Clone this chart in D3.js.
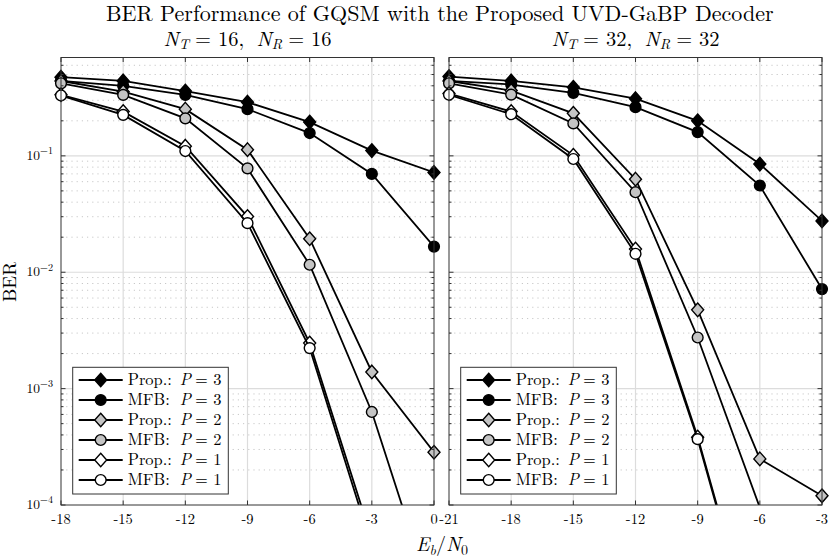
<!DOCTYPE html>
<html><head><meta charset="utf-8">
<script src="https://cdn.jsdelivr.net/npm/d3@7"></script>
<style>body{margin:0;background:#fff} svg{display:block}</style>
</head><body><svg id="c" width="830" height="558"></svg>
<script>
// ---------- data ----------
const xLeft = [-18,-15,-12,-9,-6,-3,0];
const xRight = [-21,-18,-15,-12,-9,-6,-3];
const xTicksLeft = [-18,-15,-12,-9,-6,-3,0];
const xTicksRight = [-21,-18,-15,-12,-9,-6,-3];
const yTicks = [1e-4,1e-3,1e-2,1e-1];
const yTickExp = ["\u22124","\u22123","\u22122","\u22121"];
const seriesNames = ["Prop.:","MFB:","Prop.:","MFB:","Prop.:","MFB:"];
const seriesP = [3,3,2,2,1,1];
const seriesMarker = ["diamond","circle","diamond","circle","diamond","circle"];
const seriesFill = ["#000000","#000000","#c4c4c4","#c4c4c4","#ffffff","#ffffff"];
// N_T = 16, N_R = 16
const L_prop3 = [0.474,0.44,0.36,0.289,0.195,0.111,0.072];
const L_mfb3  = [0.44,0.40,0.334,0.252,0.157,0.070,0.0166];
const L_prop2 = [0.44,0.356,0.252,0.113,0.0194,0.00139,0.000284];
const L_mfb2  = [0.42,0.334,0.21,0.078,0.0116,0.00063,0.000014];
const L_prop1 = [0.335,0.24,0.121,0.0301,0.00246,0.000051,null];
const L_mfb1  = [0.33,0.225,0.11,0.0264,0.00223,0.000044,null];
// N_T = 32, N_R = 32
const R_prop3 = [0.48,0.44,0.388,0.31,0.2,0.085,0.0276];
const R_mfb3  = [0.44,0.41,0.348,0.262,0.16,0.0556,0.00716];
const R_prop2 = [0.44,0.364,0.232,0.063,0.00475,0.000249,0.00012];
const R_mfb2  = [0.42,0.336,0.19,0.0487,0.00275,0.000095,null];
const R_prop1 = [0.343,0.24,0.101,0.0158,0.000383,0.0000049,null];
const R_mfb1  = [0.335,0.228,0.094,0.0144,0.000368,0.0000046,null];

const FONT = "'Latin Modern Roman', 'Liberation Serif', serif";
const svg = d3.select("#c").attr("font-family", FONT);
const top_ = 57.5, bottom_ = 505;
const yMin = 1e-4, yMax = 0.7;
const y = d3.scaleLog().domain([yMin, yMax]).range([bottom_, top_]);

function fit(t, w){
  const fs = parseFloat(t.attr("font-size"));
  const len = t.node().getComputedTextLength();
  if (len>0) t.attr("font-size", (fs*w/len).toFixed(2));
  return t;
}

const panels = [
  {x0:61, x1:434, xs:xLeft, ticks:xTicksLeft, dom:[-18,0], data:[L_prop3,L_mfb3,L_prop2,L_mfb2,L_prop1,L_mfb1], sub:"16", ylabels:true},
  {x0:449, x1:822, xs:xRight, ticks:xTicksRight, dom:[-21,-3], data:[R_prop3,R_mfb3,R_prop2,R_mfb2,R_prop1,R_mfb1], sub:"32", ylabels:false}
];

const gridCol = "#dcdcdc", axCol = "#333";
const minorVals = [];
for (let d=-4; d<0; d++) for (let k=2; k<=9; k++) { const v=k*Math.pow(10,d); if (v<yMax) minorVals.push(v); }

function marker(sel, type, fill, cx, cy){
  if (type==="diamond") {
    sel.append("path").attr("d", d3.line()([[0,-6.8],[6,0],[0,6.8],[-6,0]])+"Z")
      .attr("transform",`translate(${cx},${cy})`).attr("fill",fill).attr("stroke","#000").attr("stroke-width",1.4);
  } else {
    sel.append("circle").attr("cx",cx).attr("cy",cy).attr("r",5.4).attr("fill",fill).attr("stroke","#000").attr("stroke-width",1.4);
  }
}

// legend font size from a temporary measurement
const tmp = svg.append("text").attr("font-size",16).text("Prop.: P = 3");
fit(tmp, 93);
const legendFont = tmp.attr("font-size");
tmp.remove();

panels.forEach((p, pi) => {
  const x = d3.scaleLinear().domain(p.dom).range([p.x0, p.x1]);
  const g = svg.append("g");
  g.append("rect").attr("x",p.x0).attr("y",top_).attr("width",p.x1-p.x0).attr("height",bottom_-top_).attr("fill","#fff");
  g.selectAll(".mg").data(minorVals).enter().append("line")
    .attr("x1",p.x0).attr("x2",p.x1).attr("y1",d=>y(d)).attr("y2",d=>y(d))
    .attr("stroke","#c8c8c8").attr("stroke-width",1).attr("stroke-dasharray","1.2,4");
  g.selectAll(".Mg").data(yTicks.slice(1)).enter().append("line")
    .attr("x1",p.x0).attr("x2",p.x1).attr("y1",d=>y(d)).attr("y2",d=>y(d))
    .attr("stroke",gridCol).attr("stroke-width",1.2);
  g.selectAll(".xg").data(p.ticks.slice(1,-1)).enter().append("line")
    .attr("x1",d=>x(d)).attr("x2",d=>x(d)).attr("y1",top_).attr("y2",bottom_)
    .attr("stroke",gridCol).attr("stroke-width",1.2);

  const cid = "clip"+pi;
  svg.append("clipPath").attr("id",cid).append("rect").attr("x",p.x0).attr("y",top_).attr("width",p.x1-p.x0).attr("height",bottom_-top_);

  p.data.forEach((vals, si) => {
    const pts = vals.map((v,i)=>[p.xs[i], v]).filter(d=>d[1]!==null);
    const line = d3.line().x(d=>x(d[0])).y(d=>y(d[1]));
    g.append("path").attr("d", line(pts)).attr("fill","none").attr("stroke","#000")
      .attr("stroke-width",1.8).attr("clip-path",`url(#${cid})`);
    const mg = g.append("g");
    pts.filter(d=>d[1]>=yMin && d[1]<=yMax).forEach(d => marker(mg, seriesMarker[si], seriesFill[si], x(d[0]), y(d[1])));
  });

  g.append("rect").attr("x",p.x0).attr("y",top_).attr("width",p.x1-p.x0).attr("height",bottom_-top_)
    .attr("fill","none").attr("stroke",axCol).attr("stroke-width",1);
  p.ticks.forEach(t => {
    g.append("line").attr("x1",x(t)).attr("x2",x(t)).attr("y1",bottom_).attr("y2",bottom_-4.5).attr("stroke",axCol);
    g.append("line").attr("x1",x(t)).attr("x2",x(t)).attr("y1",top_).attr("y2",top_+4.5).attr("stroke",axCol);
    g.append("text").attr("x",x(t)).attr("y",524).attr("text-anchor","middle").attr("font-size",14.5).text(String(t));
  });
  yTicks.forEach(t => {
    g.append("line").attr("x1",p.x0).attr("x2",p.x0+4.5).attr("y1",y(t)).attr("y2",y(t)).attr("stroke",axCol);
    g.append("line").attr("x1",p.x1).attr("x2",p.x1-4.5).attr("y1",y(t)).attr("y2",y(t)).attr("stroke",axCol);
  });
  minorVals.forEach(t => {
    g.append("line").attr("x1",p.x0).attr("x2",p.x0+2.5).attr("y1",y(t)).attr("y2",y(t)).attr("stroke",axCol);
    g.append("line").attr("x1",p.x1).attr("x2",p.x1-2.5).attr("y1",y(t)).attr("y2",y(t)).attr("stroke",axCol);
  });
  if (p.ylabels) {
    yTicks.forEach((t,i) => {
      const tx = g.append("text").attr("x",p.x0-8).attr("y",y(t)+4).attr("text-anchor","end").attr("font-size",13.5);
      tx.append("tspan").text("10");
      tx.append("tspan").attr("font-size","75%").attr("dy","-0.55em").text(yTickExp[i]);
    });
  }
  // subtitle
  const st = svg.append("text").attr("x",(p.x0+p.x1)/2).attr("y",45.5).attr("text-anchor","middle").attr("font-size",20.5);
  st.append("tspan").attr("font-style","italic").text("N");
  st.append("tspan").attr("font-style","italic").attr("font-size","70%").attr("dy","0.25em").text("T");
  st.append("tspan").attr("dy","-0.175em").attr("dx","0.3em").text("= " + p.sub + ",");
  st.append("tspan").attr("font-style","italic").attr("dx","0.6em").text("N");
  st.append("tspan").attr("font-style","italic").attr("font-size","70%").attr("dy","0.25em").text("R");
  st.append("tspan").attr("dy","-0.175em").attr("dx","0.3em").text("= " + p.sub);

  // legend
  const lx = p.x0 + 11.7, ly = 367.3, lw = 155.6, lh = 126.7;
  const lg = svg.append("g");
  lg.append("rect").attr("x",lx).attr("y",ly).attr("width",lw).attr("height",lh).attr("fill","#fff").attr("stroke",axCol).attr("stroke-width",1);
  seriesNames.forEach((nm, si) => {
    const ry = ly + 12.7 + si*20;
    lg.append("line").attr("x1",lx+6).attr("x2",lx+50).attr("y1",ry).attr("y2",ry).attr("stroke","#000").attr("stroke-width",1.8);
    marker(lg, seriesMarker[si], seriesFill[si], lx+28, ry);
    const t = lg.append("text").attr("x",lx+55).attr("y",ry+5).attr("font-size",legendFont);
    t.append("tspan").text(nm);
    t.append("tspan").attr("x",lx+107).attr("font-style","italic").text("P");
    t.append("tspan").attr("dx","0.25em").text("= " + seriesP[si]);
  });
});

// title
const title = svg.append("text").attr("x",106).attr("y",20.5).attr("font-size",21)
  .text("BER Performance of GQSM with the Proposed UVD-GaBP Decoder");
fit(title, 668);
// y label
const yl = svg.append("text").attr("transform","translate(16,282) rotate(-90)").attr("text-anchor","middle").attr("font-size",17).text("BER");
fit(yl, 40);
// x label
const xl = svg.append("text").attr("x",442).attr("y",551).attr("text-anchor","middle").attr("font-size",19);
xl.append("tspan").attr("font-style","italic").text("E");
xl.append("tspan").attr("font-style","italic").attr("font-size","70%").attr("dy","0.25em").text("b");
xl.append("tspan").attr("dy","-0.175em").text("/");
xl.append("tspan").attr("font-style","italic").text("N");
xl.append("tspan").attr("font-size","70%").attr("dy","0.25em").text("0");
fit(xl, 52);
</script></body></html>
